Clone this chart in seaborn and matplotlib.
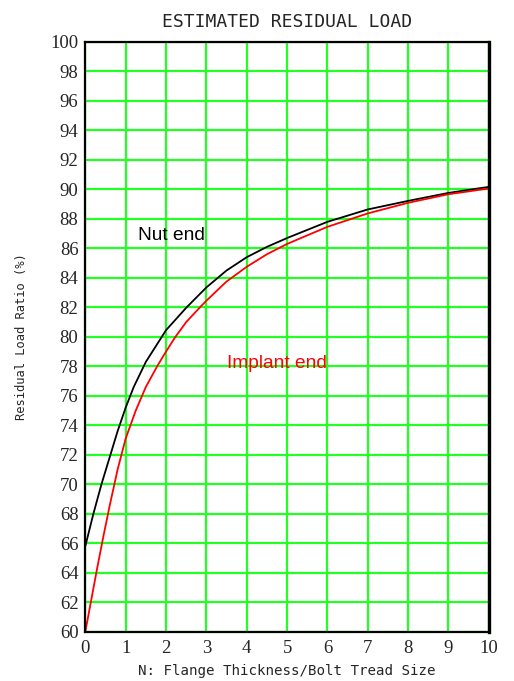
import matplotlib
matplotlib.use("Agg")
import matplotlib.pyplot as plt
import seaborn as sns
import pandas as pd

# values
nut_x = [0, 0.2, 0.4, 0.6, 0.8, 1.0, 1.2, 1.5, 2.0, 2.51, 3.0, 3.5, 4.0, 4.5, 5, 6, 7, 8, 9, 10]
nut_y = [65.8, 68.0, 70.0, 71.8, 73.6, 75.2, 76.6, 78.3, 80.45, 82.0, 83.35, 84.5, 85.4, 86.1, 86.7, 87.8, 88.64, 89.22, 89.76, 90.17]
implant_x = [0, 0.15, 0.3, 0.45, 0.6, 0.8, 1.0, 1.25, 1.5, 1.78, 2.0, 2.22, 2.5, 2.84, 3.0, 3.5, 4.0, 4.5, 5, 6, 7, 8, 9, 10]
implant_y = [60, 62.2, 64.4, 66.5, 68.5, 71.0, 73.1, 75.0, 76.6, 78.0, 79.0, 79.95, 81.0, 82.0, 82.45, 83.75, 84.75, 85.6, 86.3, 87.46, 88.37, 89.09, 89.67, 90.06]
x_ticks = list(range(0, 11))
y_ticks = list(range(60, 101, 2))

df_nut = pd.DataFrame({"N": nut_x, "ratio": nut_y})
df_imp = pd.DataFrame({"N": implant_x, "ratio": implant_y})

sns.set_style("white")
fig = plt.figure(figsize=(5.14, 6.81), dpi=100)
ax = fig.add_axes([0.166, 0.0724, 0.785, 0.866])

ax.grid(True, color="#22ff22", linewidth=1.6)
ax.set_axisbelow(True)

sns.lineplot(data=df_nut, x="N", y="ratio", color="black", linewidth=1.3, sort=False, ax=ax)
sns.lineplot(data=df_imp, x="N", y="ratio", color="red", linewidth=1.3, sort=False, ax=ax)

ax.set_xlim(0, 10)
ax.set_ylim(60, 100)
ax.set_xticks(x_ticks)
ax.set_yticks(y_ticks)
ax.tick_params(length=0, labelsize=13.5)
ax.tick_params(axis="x", pad=6)
ax.tick_params(axis="y", pad=5)
for lab in ax.get_xticklabels() + ax.get_yticklabels():
    lab.set_family("Liberation Serif")

for s in ax.spines.values():
    s.set_color("black")
    s.set_linewidth(1.6)
ax.spines["right"].set_linewidth(2.4)

ax.text(1.3, 86.9, "Nut end", color="black", fontsize=13.8, va="center", ha="left",
        family="Liberation Sans")
ax.text(3.5, 78.2, "Implant end", color="red", fontsize=13.8, va="center", ha="left",
        family="Liberation Sans")

ax.set_title("ESTIMATED RESIDUAL LOAD", family="DejaVu Sans Mono", fontsize=13, pad=11)
ax.set_xlabel("N: Flange Thickness/Bolt Tread Size", family="DejaVu Sans Mono", fontsize=10.2, labelpad=5)
ax.set_ylabel("Residual Load Ratio (%)", family="DejaVu Sans Mono", fontsize=8.7, labelpad=16)

fig.savefig("out.png", dpi=100)
